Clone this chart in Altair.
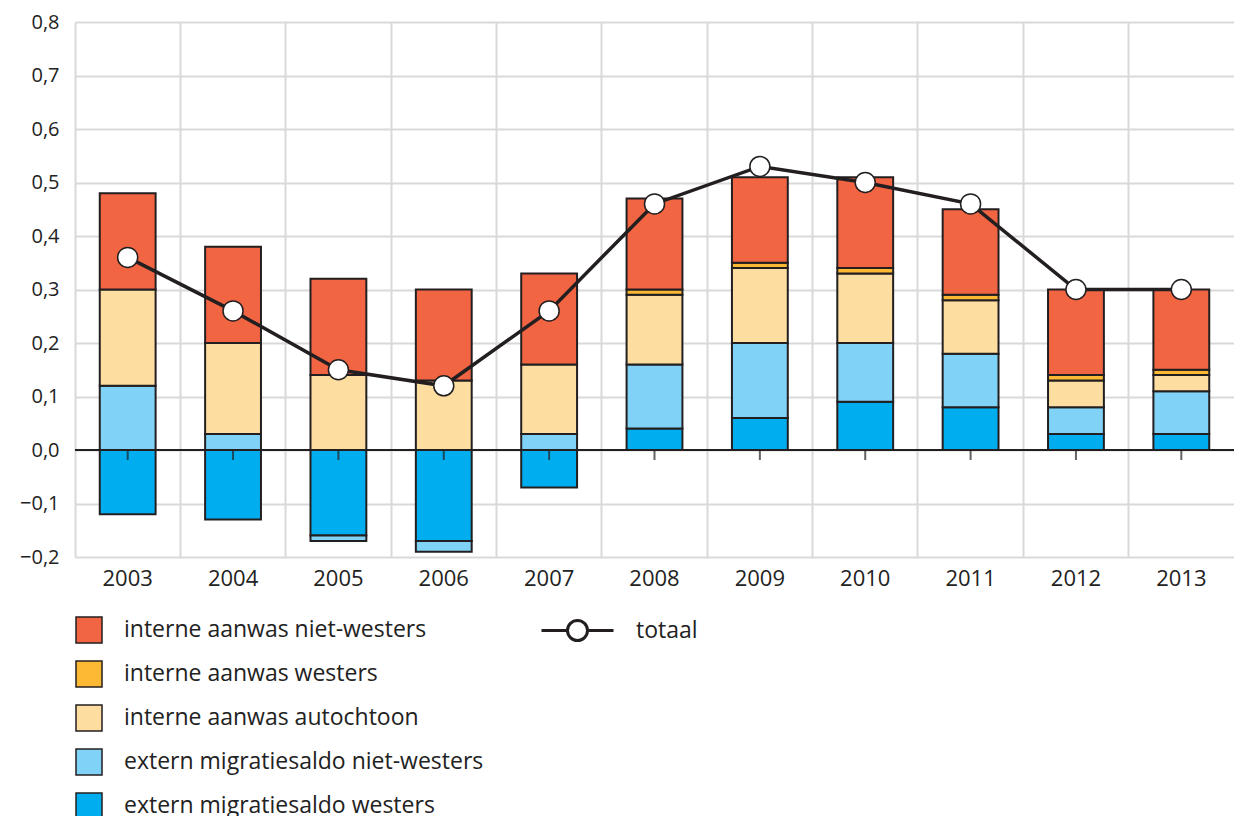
import altair as alt
import pandas as pd

years = ["2003", "2004", "2005", "2006", "2007", "2008", "2009", "2010", "2011", "2012", "2013"]

categories = [
    "extern migratiesaldo westers",
    "extern migratiesaldo niet-westers",
    "interne aanwas autochtoon",
    "interne aanwas westers",
    "interne aanwas niet-westers",
]
colors = ["#00aeef", "#80d3f7", "#fddea0", "#fdb933", "#f26543"]

ext_westers = [-0.12, -0.13, -0.16, -0.17, -0.07, 0.04, 0.06, 0.09, 0.08, 0.03, 0.03]
ext_niet_westers = [0.12, 0.03, -0.01, -0.02, 0.03, 0.12, 0.14, 0.11, 0.10, 0.05, 0.08]
int_autochtoon = [0.18, 0.17, 0.14, 0.13, 0.13, 0.13, 0.14, 0.13, 0.10, 0.05, 0.03]
int_westers = [0, 0, 0, 0, 0, 0.01, 0.01, 0.01, 0.01, 0.01, 0.01]
int_niet_westers = [0.18, 0.18, 0.18, 0.17, 0.17, 0.17, 0.16, 0.17, 0.16, 0.16, 0.15]
totaal = [0.36, 0.26, 0.15, 0.12, 0.26, 0.46, 0.53, 0.50, 0.46, 0.30, 0.30]

y_ticks = [-0.2, -0.1, 0.0, 0.1, 0.2, 0.3, 0.4, 0.5, 0.6, 0.7, 0.8]

series = [ext_westers, ext_niet_westers, int_autochtoon, int_westers, int_niet_westers]
rows = []
for ci, (cat, vals) in enumerate(zip(categories, series)):
    for y, v in zip(years, vals):
        if v != 0:
            rows.append({"jaar": y, "categorie": cat, "waarde": v, "volgorde": ci})
bars_df = pd.DataFrame(rows)
tot_df = pd.DataFrame({"jaar": years, "totaal": totaal, "s": "totaal"})

FONT = "Open Sans"
INK = "#231f20"
W = 1159
H = 535

xscale = alt.Scale(paddingInner=0, paddingOuter=0)
yscale = alt.Scale(domain=[-0.2, 0.8], nice=False)

legend_order = list(reversed(categories))
legend_colors = list(reversed(colors))

x_enc = alt.X(
    "jaar:O",
    scale=xscale,
    sort=years,
    axis=alt.Axis(
        title=None, bandPosition=0, ticks=False, domain=False,
        grid=True, gridColor="#d9d9d9", gridWidth=2, labelAngle=0,
        labelFont=FONT, labelFontSize=22, labelColor="#222222", labelPadding=11,
    ),
)

bars = alt.Chart(bars_df).mark_bar(
    width=alt.RelativeBandSize(0.53), stroke=INK, strokeWidth=2
).encode(
    x=x_enc,
    y=alt.Y(
        "waarde:Q",
        scale=yscale,
        stack="zero",
        axis=alt.Axis(
            title=None, values=y_ticks, ticks=False, domain=False, grid=True,
            gridColor="#d9d9d9", gridWidth=2,
            labelExpr="replace(format(datum.value, '.1f'), '.', ',')",
            labelFont=FONT, labelFontSize=20, labelColor="#222222", labelPadding=16,
        ),
    ),
    color=alt.Color(
        "categorie:N",
        scale=alt.Scale(domain=legend_order, range=legend_colors),
        legend=alt.Legend(
            title=None, orient="none", legendX=0, legendY=594, direction="vertical",
            symbolType="square", symbolSize=676, symbolStrokeColor=INK,
            symbolStrokeWidth=1.5, symbolOpacity=1, labelFont=FONT, labelFontSize=23,
            labelColor="#222222", labelOffset=21, rowPadding=12, padding=0,
            labelLimit=600,
        ),
    ),
    order=alt.Order("volgorde:Q", sort="ascending"),
)

zero = alt.Chart(tot_df).mark_rule(color=INK, strokeWidth=2).encode(y=alt.datum(0))

ticks = alt.Chart(tot_df).mark_tick(
    orient="vertical", size=10, thickness=2, color=INK, yOffset=5
).encode(x=alt.X("jaar:O", scale=xscale, sort=years), y=alt.datum(0))

line = alt.Chart(tot_df).mark_line(strokeWidth=3.5, color=INK).encode(
    x=alt.X("jaar:O", scale=xscale, sort=years),
    y=alt.Y("totaal:Q", scale=yscale),
)

line_circle_symbol = "M-3.6,0L-1,0M1,0L3.6,0M1,0A1,1 0 1,1 -1,0A1,1 0 1,1 1,0Z"

points = alt.Chart(tot_df).mark_point(
    filled=True, fill="white", strokeWidth=1.5, size=400, opacity=1
).encode(
    x=alt.X("jaar:O", scale=xscale, sort=years),
    y=alt.Y("totaal:Q", scale=yscale),
    stroke=alt.Stroke(
        "s:N",
        scale=alt.Scale(domain=["totaal"], range=[INK]),
        legend=alt.Legend(
            title=None, orient="none", legendX=491, legendY=597,
            symbolType=line_circle_symbol, symbolSize=400,
            symbolFillColor="white", symbolStrokeWidth=3, symbolOpacity=1,
            labelFont=FONT, labelFontSize=23, labelColor="#222222",
            labelOffset=47, padding=0,
        ),
    ),
)

chart = (
    alt.layer(bars, zero, ticks, line, points)
    .resolve_scale(color="independent", stroke="independent")
    .properties(
        width=W,
        height=H,
        autosize=alt.AutoSizeParams(type="none"),
        padding={"left": 67, "top": 14, "right": 0, "bottom": 262},
    )
    .configure_view(stroke=None)
)

chart.save("out.html", embed_options={"renderer": "svg", "actions": False})
